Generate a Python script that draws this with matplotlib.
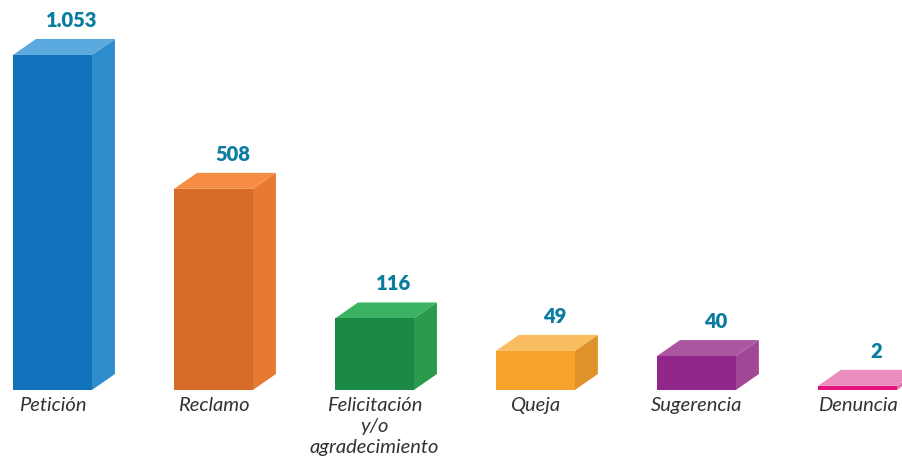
import numpy as np
import matplotlib.pyplot as plt
from matplotlib.patches import Polygon

# datos
categorias = ["Petición", "Reclamo", "Felicitación\ny/o\nagradecimiento",
              "Queja", "Sugerencia", "Denuncia"]
valores = [1053, 508, 116, 49, 40, 2]
etiquetas = ["1.053", "508", "116", "49", "40", "2"]

# colores: cara frontal, lateral y tapa
col_frente = ["#1072BA", "#D66C27", "#1B8A45", "#F5A32A", "#93268B", "#E4127F"]
col_lado = ["#2E8BCC", "#E57A30", "#2A9B4D", "#E0922A", "#A24795", "#E56FAE"]
col_tapa = ["#5BAADF", "#F58D45", "#3BB362", "#F9BC5E", "#AB56A0", "#EB8EBE"]


# escala de potencia (la infografía no es lineal)
def f(v):
    return np.sign(v) * np.abs(v) ** 0.7


def finv(v):
    return np.sign(v) * np.abs(v) ** (1 / 0.7)


fig = plt.figure(figsize=(9.03, 4.59), dpi=100)
ax = fig.add_axes([0, 0.1503, 1, 0.8497])
ax.set_yscale('function', functions=(f, finv))
ax.set_ylim(0, 1308)
ax.set_xlim(-0.326, 5.283)

x = np.arange(len(valores))
ancho = 0.49
ax.bar(x, valores, width=ancho, color=col_frente, zorder=3)

# caras en perspectiva (profundidad en pixeles)
dx, dy = 23, 16
inv = ax.transData.inverted()
for i, v in enumerate(valores):
    x0, x1 = x[i] - ancho / 2, x[i] + ancho / 2
    (px0, py0), (px1, py1) = ax.transData.transform([(x0, 0), (x1, v)])
    lado = [(px1, py0), (px1 + dx, py0 + dy), (px1 + dx, py1 + dy), (px1, py1)]
    tapa = [(px0, py1), (px1, py1), (px1 + dx, py1 + dy), (px0 + dx, py1 + dy)]
    ax.add_patch(Polygon(inv.transform(lado), color=col_lado[i], lw=0, zorder=2))
    ax.add_patch(Polygon(inv.transform(tapa), color=col_tapa[i], lw=0, zorder=2))
    ax.annotate(etiquetas[i], (x[i], v), xytext=(19, dy + 12),
                textcoords='offset pixels', ha='center', va='baseline',
                fontsize=14.5, fontweight='heavy', color="#0A7CA0", family="Lato")

ax.set_xticks(x, categorias, fontstyle='italic', fontsize=14.5,
              color="#333333", family="Lato", linespacing=1.3)
ax.tick_params(axis='x', length=0, pad=5)
ax.set_yticks([])
ax.yaxis.set_minor_locator(plt.NullLocator())
for s in ax.spines.values():
    s.set_visible(False)
ax.patch.set_visible(False)

fig.savefig("out.png", dpi=100)
